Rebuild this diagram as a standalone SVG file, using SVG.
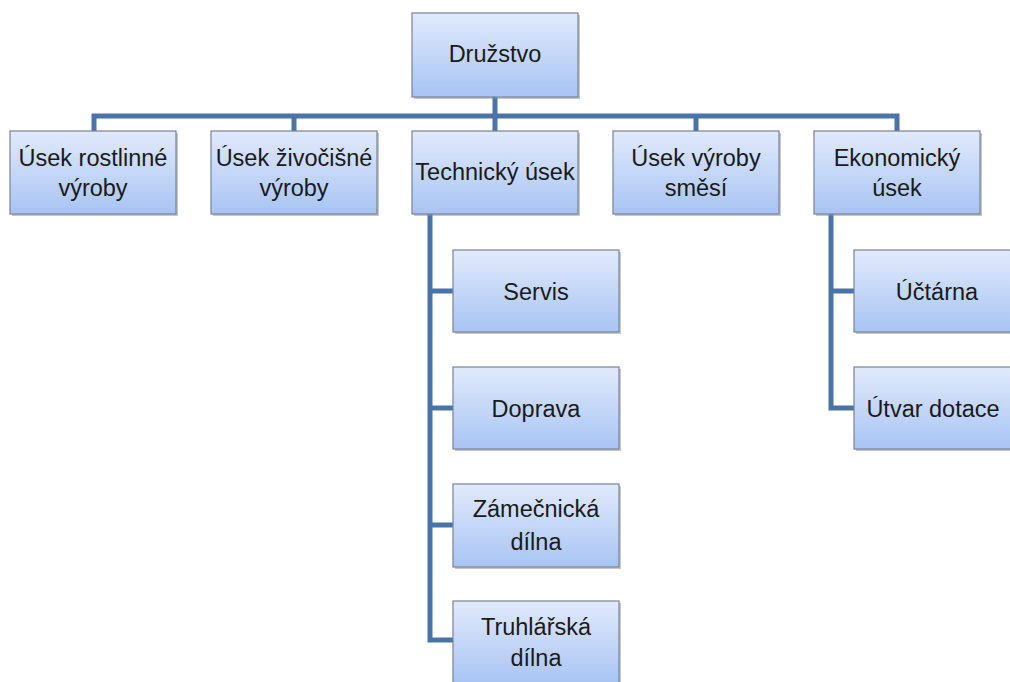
<svg xmlns="http://www.w3.org/2000/svg" width="1010" height="682" viewBox="0 0 1010 682">
<defs>
<linearGradient id="g" x1="0" y1="0" x2="0" y2="1">
<stop offset="0" stop-color="#e1eafc"/>
<stop offset="1" stop-color="#a8c4f4"/>
</linearGradient>
<style>
.b{fill:url(#g);stroke:#7a8494;stroke-width:1.2}
.s{fill:#8a8f99;opacity:0.5}
.t{font-family:"Liberation Sans",Arial,sans-serif;font-size:23.5px;fill:#1a1a1a;text-anchor:middle}
.c{fill:none;stroke:#4a74a8;stroke-width:5}
</style>
</defs>
<rect width="1010" height="682" fill="#fff"/>
<g id="connectors">
<path class="c" d="M495 97V131M94 131V116H897V131M294 116V131M696 116V131"/>
<path class="c" d="M430 214V640H453M430 291H453M430 408H453M430 525H453"/>
<path class="c" d="M831 214V408H854M831 291H854"/>
</g>
<g id="n0"><rect class="s" x="414" y="15" width="166" height="84"/><rect class="b" x="412" y="13" width="166" height="84"/><text class="t" x="495" y="62">Družstvo</text></g>
<g id="n1"><rect class="s" x="12" y="133" width="166" height="83"/><rect class="b" x="10" y="131" width="166" height="83"/><text class="t" x="93" y="166">Úsek rostlinné</text><text class="t" x="93" y="196">výroby</text></g>
<g id="n2"><rect class="s" x="213" y="133" width="166" height="83"/><rect class="b" x="211" y="131" width="166" height="83"/><text class="t" x="294" y="166">Úsek živočišné</text><text class="t" x="294" y="196">výroby</text></g>
<g id="n3"><rect class="s" x="414" y="133" width="166" height="83"/><rect class="b" x="412" y="131" width="166" height="83"/><text class="t" x="495" y="180">Technický úsek</text></g>
<g id="n4"><rect class="s" x="615" y="133" width="166" height="83"/><rect class="b" x="613" y="131" width="166" height="83"/><text class="t" x="696" y="166">Úsek výroby</text><text class="t" x="696" y="196">směsí</text></g>
<g id="n5"><rect class="s" x="816" y="133" width="166" height="83"/><rect class="b" x="814" y="131" width="166" height="83"/><text class="t" x="897" y="166">Ekonomický</text><text class="t" x="897" y="196">úsek</text></g>
<g id="n6"><rect class="s" x="455" y="252" width="166" height="82"/><rect class="b" x="453" y="250" width="166" height="82"/><text class="t" x="536" y="300">Servis</text></g>
<g id="n7"><rect class="s" x="455" y="369" width="166" height="82"/><rect class="b" x="453" y="367" width="166" height="82"/><text class="t" x="536" y="417">Doprava</text></g>
<g id="n8"><rect class="s" x="455" y="486" width="166" height="83"/><rect class="b" x="453" y="484" width="166" height="83"/><text class="t" x="536" y="517">Zámečnická</text><text class="t" x="536" y="550">dílna</text></g>
<g id="n9"><rect class="s" x="455" y="603" width="166" height="83"/><rect class="b" x="453" y="601" width="166" height="83"/><text class="t" x="536" y="635">Truhlářská</text><text class="t" x="536" y="666">dílna</text></g>
<g id="n10"><rect class="s" x="856" y="252" width="166" height="82"/><rect class="b" x="854" y="250" width="166" height="82"/><text class="t" x="937" y="300">Účtárna</text></g>
<g id="n11"><rect class="s" x="856" y="369" width="166" height="82"/><rect class="b" x="854" y="367" width="166" height="82"/><text class="t" x="933" y="417">Útvar dotace</text></g>
</svg>
